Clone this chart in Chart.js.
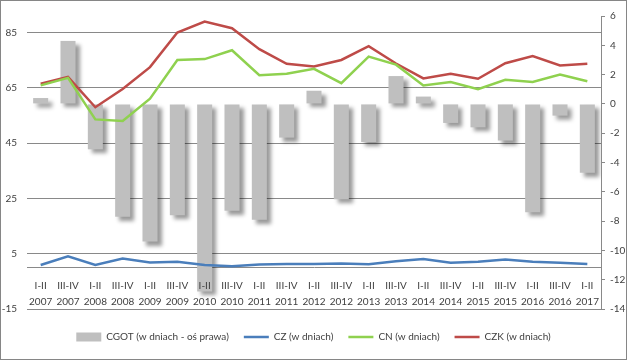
<!DOCTYPE html>
<html>
<head>
<meta charset="utf-8">
<script src="https://cdn.jsdelivr.net/npm/chart.js@4/dist/chart.umd.min.js"></script>
<style>
  html, body { margin: 0; padding: 0; background: #fff; }
</style>
</head>
<body>
<canvas id="chart" width="627" height="360"></canvas>
<script>
// półrocza i lata
const halves = ['I-II', 'III-IV', 'I-II', 'III-IV', 'I-II', 'III-IV', 'I-II', 'III-IV', 'I-II', 'III-IV',
  'I-II', 'III-IV', 'I-II', 'III-IV', 'I-II', 'III-IV', 'I-II', 'III-IV', 'I-II', 'III-IV', 'I-II'];
const years = ['2007', '2007', '2008', '2008', '2009', '2009', '2010', '2010', '2011', '2011',
  '2012', '2012', '2013', '2013', '2014', '2014', '2015', '2015', '2016', '2016', '2017'];

// CGOT - oś prawa
const cgot = [0.4, 4.3, -3.1, -7.7, -9.4, -7.6, -12.8, -7.3, -7.9, -2.3, 0.9, -6.5, -2.6, 1.9, 0.5,
  -1.3, -1.6, -2.5, -7.4, -0.8, -4.7];
// oś lewa
const cz = [0.9, 4.1, 0.9, 3.3, 1.8, 2.1, 0.9, 0.5, 1.1, 1.3, 1.3, 1.5, 1.2, 2.3, 3.1, 1.7, 2.1, 2.9,
  2.1, 1.7, 1.3];
const cn = [65.9, 68.6, 53.6, 53.0, 61.1, 75.1, 75.4, 78.6, 69.6, 70.1, 71.9, 66.7, 76.3, 73.4, 65.9,
  67.1, 64.5, 67.9, 67.1, 69.8, 67.4];
const czk = [66.5, 69.0, 58.0, 64.6, 72.5, 85.0, 89.0, 86.6, 79.0, 73.7, 72.7, 75.1, 80.1, 73.8, 68.4,
  70.1, 68.3, 73.9, 76.5, 73.1, 73.7];

const leftTicks = [-15, 5, 25, 45, 65, 85];
const rightTicks = [-14, -12, -10, -8, -6, -4, -2, 0, 2, 4, 6];

const font = { family: "Lato, 'DejaVu Sans Condensed', sans-serif", size: 10 };
const textColor = '#404040';
const gridColor = '#898989';

// cień pod słupkami jak w Excelu
const barShadow = {
  id: 'barShadow',
  beforeDatasetDraw(chart, args) {
    if (args.meta.type !== 'bar') return;
    const ctx = chart.ctx;
    ctx.save();
    ctx.shadowColor = 'rgba(0,0,0,0.4)';
    ctx.shadowBlur = 4;
    ctx.shadowOffsetX = 4;
    ctx.shadowOffsetY = 4;
  },
  afterDatasetDraw(chart, args) {
    if (args.meta.type === 'bar') chart.ctx.restore();
  }
};

const frame = {
  id: 'frame',
  afterLayout(chart) {
    chart.legend.top += 8;
    chart.legend.bottom += 8;
  },
  afterDraw(chart) {
    const ctx = chart.ctx;
    ctx.save();
    ctx.strokeStyle = '#868686';
    ctx.lineWidth = 1;
    ctx.strokeRect(0.5, 0.5, chart.width - 1, chart.height - 1);
    ctx.restore();
  }
};

new Chart(document.getElementById('chart'), {
  type: 'bar',
  data: {
    labels: halves.map((h, i) => [h, years[i]]),
    datasets: [{
      type: 'bar',
      label: 'CGOT (w dniach - oś prawa)',
      data: cgot,
      yAxisID: 'y1',
      backgroundColor: '#bfbfbf',
      borderWidth: 0,
      barPercentage: 0.55,
      categoryPercentage: 1.0,
      pointStyle: 'rect',
      order: 2
    }, {
      type: 'line',
      label: 'CZ (w dniach)',
      data: cz,
      yAxisID: 'y',
      borderColor: '#4a7ebb',
      backgroundColor: '#4a7ebb',
      borderWidth: 2.5,
      pointRadius: 0,
      pointStyle: 'line',
      order: 1
    }, {
      type: 'line',
      label: 'CN (w dniach)',
      data: cn,
      yAxisID: 'y',
      borderColor: '#8fd14f',
      backgroundColor: '#8fd14f',
      borderWidth: 2.5,
      pointRadius: 0,
      pointStyle: 'line',
      order: 1
    }, {
      type: 'line',
      label: 'CZK (w dniach)',
      data: czk,
      yAxisID: 'y',
      borderColor: '#be4b48',
      backgroundColor: '#be4b48',
      borderWidth: 2.5,
      pointRadius: 0,
      pointStyle: 'line',
      order: 1
    }]
  },
  options: {
    responsive: false,
    animation: false,
    layout: { padding: { top: 16, bottom: 16, left: 0, right: 0 } },
    plugins: {
      legend: {
        position: 'bottom',
        labels: {
          usePointStyle: true,
          pointStyleWidth: 25,
          boxHeight: 9,
          padding: 15,
          color: textColor,
          font: font,
          sort: (a, b) => a.datasetIndex - b.datasetIndex
        }
      },
      tooltip: { enabled: false }
    },
    scales: {
      x: {
        position: { y: 0 },
        offset: true,
        grid: { display: false, drawTicks: false },
        border: { display: true, color: gridColor, width: 1 },
        ticks: {
          z: 1,
          padding: 10,
          color: textColor,
          font: { family: font.family, size: 10, lineHeight: 1.6 },
          maxRotation: 0,
          autoSkip: false
        }
      },
      y: {
        position: 'left',
        min: -15,
        max: 91,
        afterBuildTicks: s => { s.ticks = leftTicks.map(v => ({ value: v })); },
        afterFit: s => { s.width = 27; },
        grid: { color: gridColor, drawTicks: false },
        border: { display: false },
        ticks: { padding: 10, color: textColor, font: font }
      },
      y1: {
        position: 'right',
        min: -14,
        max: 6,
        afterBuildTicks: s => { s.ticks = rightTicks.map(v => ({ value: v })); },
        afterFit: s => { s.width = 26; },
        grid: { drawOnChartArea: false, drawTicks: true, tickLength: 4, color: gridColor },
        border: { display: true, color: gridColor },
        ticks: { padding: 5, color: textColor, font: font }
      }
    }
  },
  plugins: [barShadow, frame]
});
</script>
</body>
</html>
